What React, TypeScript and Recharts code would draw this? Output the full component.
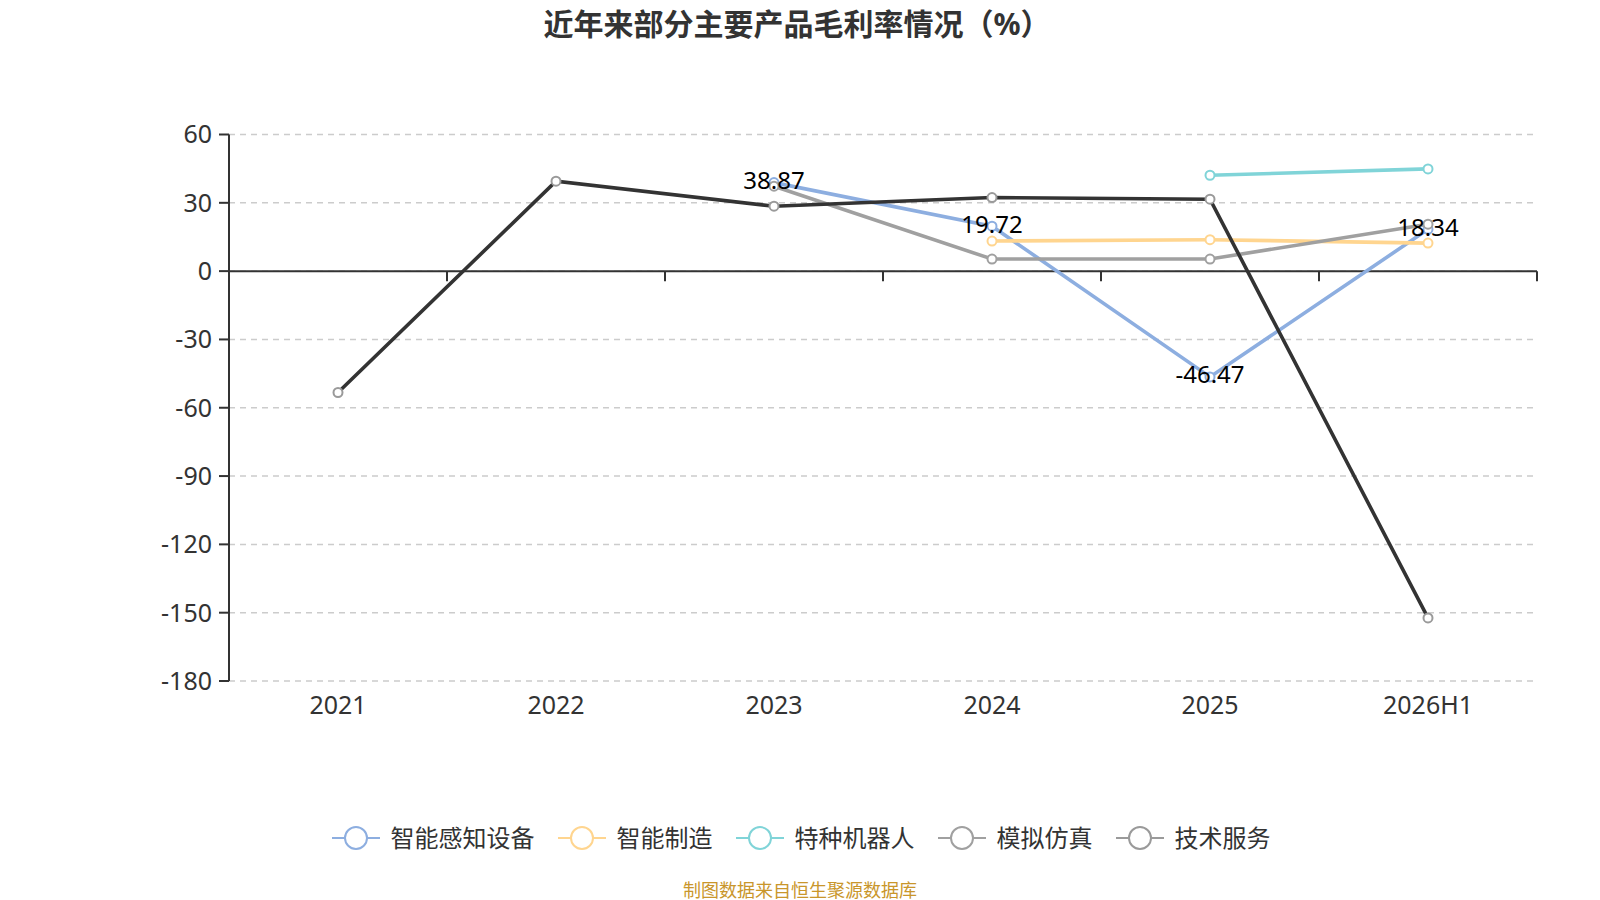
import { LineChart, Line, XAxis, YAxis, CartesianGrid, ReferenceLine, LabelList } from "recharts";

const years = ["2021", "2022", "2023", "2024", "2025", "2026H1"];
const sensing = [null, null, 38.87, 19.72, -46.47, 18.34];
const manufacturing = [null, null, null, 13.2, 13.8, 12.3];
const robots = [null, null, null, null, 42.1, 44.9];
const simulation = [null, null, 37.3, 5.3, 5.3, 20.6];
const services = [-53.3, 39.5, 28.5, 32.3, 31.6, -152.3];
const yTicks = [-180, -150, -120, -90, -60, -30, 0, 30, 60];

const series = [
  { key: "sensing", name: "智能感知设备", color: "#8DAEE0", dotColor: "#8DAEE0", values: sensing },
  { key: "manufacturing", name: "智能制造", color: "#FFD58F", dotColor: "#FFD58F", values: manufacturing },
  { key: "robots", name: "特种机器人", color: "#80D4D8", dotColor: "#80D4D8", values: robots },
  { key: "simulation", name: "模拟仿真", color: "#A0A0A0", dotColor: "#A0A0A0", values: simulation },
  { key: "services", name: "技术服务", color: "#333333", dotColor: "#9A9A9A", values: services },
];

const data = years.map((year, i) => {
  const row: Record<string, any> = { year };
  series.forEach((s) => (row[s.key] = s.values[i]));
  return row;
});

const FONT = "'Noto Sans', 'Noto Sans CJK SC', sans-serif";

// zero line with tick marks at the category boundaries
const ZeroAxis = (props: any) => {
  const { x1, x2, y1 } = props;
  const step = (x2 - x1) / years.length;
  return (
    <g>
      <line x1={x1} x2={x2} y1={y1} y2={y1} stroke="#333" strokeWidth={2} />
      {years.map((_, i) => (
        <line key={i} x1={x1 + step * (i + 1)} x2={x1 + step * (i + 1)} y1={y1} y2={y1 + 10} stroke="#333" strokeWidth={2} />
      ))}
    </g>
  );
};

const ValueLabel = (props: any) => {
  const { x, y, value } = props;
  if (value === null || value === undefined) return null;
  return (
    <text x={x} y={y - 3} textAnchor="middle" dominantBaseline="central" fontSize={24} fill="#000" fontFamily={FONT}>
      {value}
    </text>
  );
};

export default function App() {
  return (
    <div style={{ position: "absolute", left: 0, top: 0, width: 1600, height: 900, background: "#fff", fontFamily: FONT }}>
      <div style={{ position: "absolute", left: 0, top: 3, width: 1594, textAlign: "center", fontSize: 30, fontWeight: 700, color: "#333", lineHeight: "42px" }}>
        近年来部分主要产品毛利率情况（%）
      </div>

      <LineChart width={1600} height={900} data={data} margin={{ top: 134.5, right: 63, left: 0, bottom: 189 }}>
        <CartesianGrid vertical={false} stroke="#ccc" strokeDasharray="6 5" strokeWidth={1.5} />
        <XAxis
          dataKey="year"
          scale="band"
          axisLine={false}
          tickLine={false}
          tickSize={0}
          tickMargin={15}
          height={30}
          tick={{ fontSize: 25, fill: "#333", fontFamily: FONT }}
        />
        <YAxis
          width={229}
          domain={[-180, 60]}
          ticks={yTicks}
          interval={0}
          tickSize={10}
          tickMargin={7}
          axisLine={{ stroke: "#333", strokeWidth: 2 }}
          tickLine={{ stroke: "#333", strokeWidth: 2 }}
          tick={{ fontSize: 25, fill: "#333", fontFamily: FONT }}
        />
        <ReferenceLine y={0} shape={ZeroAxis} />
        {series.map((s) => (
          <Line
            key={s.key}
            type="linear"
            dataKey={s.key}
            stroke={s.color}
            strokeWidth={3.6}
            dot={{ r: 4.5, fill: "#fff", stroke: s.dotColor, strokeWidth: 2 }}
            activeDot={false}
            isAnimationActive={false}
          />
        ))}
        <Line dataKey="sensing" stroke="none" dot={false} activeDot={false} isAnimationActive={false}>
          <LabelList dataKey="sensing" content={ValueLabel} />
        </Line>
      </LineChart>

      <div style={{ position: "absolute", left: 0, top: 822, width: 1602, display: "flex", justifyContent: "center", alignItems: "center", gap: 23 }}>
        {series.map((s) => (
          <div key={s.key} style={{ display: "flex", alignItems: "center", gap: 11 }}>
            <svg width={48} height={26}>
              <line x1={0} x2={48} y1={13} y2={13} stroke={s.dotColor} strokeWidth={2} />
              <circle cx={24} cy={13} r={11} fill="#fff" stroke={s.dotColor} strokeWidth={2} />
            </svg>
            <span style={{ fontSize: 24, color: "#333", lineHeight: "32px" }}>{s.name}</span>
          </div>
        ))}
      </div>

      <div style={{ position: "absolute", left: 0, top: 878, width: 1600, textAlign: "center", fontSize: 18, color: "#C9962B", lineHeight: "24px" }}>
        制图数据来自恒生聚源数据库
      </div>
    </div>
  );
}
